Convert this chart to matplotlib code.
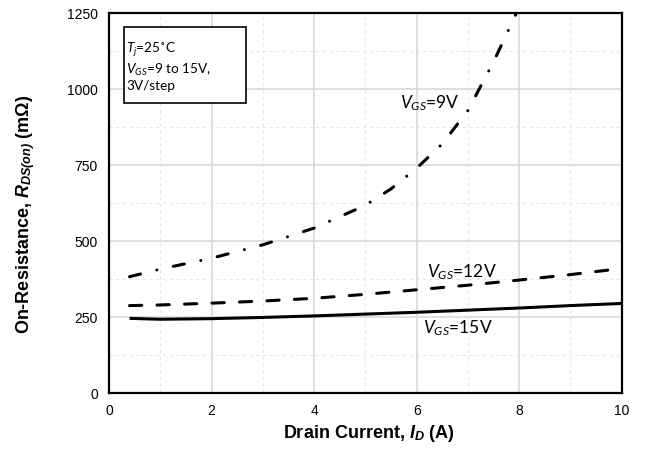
import numpy as np
import matplotlib.pyplot as plt
from matplotlib.patches import Rectangle

plt.rcParams['mathtext.fontset'] = 'custom'
plt.rcParams['mathtext.rm'] = 'Lato'
plt.rcParams['mathtext.it'] = 'Lato:italic'
plt.rcParams['mathtext.bfit'] = 'Liberation Sans:bold:italic'

id_9v = [0.4, 1, 2, 3, 4, 5, 5.5, 6, 6.5, 7, 7.5, 8]
r_9v = [383, 408, 444, 488, 543, 618, 672, 740, 820, 930, 1090, 1270]

id_12v = [0.4, 1, 2, 3, 4, 5, 6, 7, 8, 9, 10]
r_12v = [288, 290, 296, 303, 312, 325, 340, 355, 372, 390, 410]

id_15v = [0.4, 1, 2, 3, 4, 5, 6, 7, 8, 9, 10]
r_15v = [246, 243, 245, 249, 254, 260, 266, 273, 280, 288, 295]

xticks = [0, 2, 4, 6, 8, 10]
yticks = [0, 250, 500, 750, 1000, 1250]

fig = plt.figure(figsize=(6.49, 4.55), dpi=100)
ax = fig.add_axes([0.168, 0.136, 0.79, 0.835])

lw = 2.2
ax.plot(id_15v, r_15v, color='black', lw=lw, solid_capstyle='butt')
ax.plot(id_12v, r_12v, color='black', lw=lw, linestyle=(0, (4, 5)),
        dash_capstyle='round')
ax.plot(id_9v, r_9v, color='black', lw=lw, linestyle=(0, (3.7, 5.5, 0.01, 5.5)),
        dash_capstyle='round')

ax.set_xlim(0, 10)
ax.set_ylim(0, 1250)
ax.set_xticks(xticks)
ax.set_yticks(yticks)
ax.set_xticks(np.arange(1, 10, 2), minor=True)
ax.set_yticks(np.arange(125, 1250, 250), minor=True)
ax.grid(which='major', color='#d9d9d9', lw=1.2)
ax.grid(which='minor', color='#e6e6e6', lw=0.8, linestyle=(0, (3, 3)))
ax.set_axisbelow(True)
ax.tick_params(which='both', length=0, pad=8, labelsize=10)
for lab in ax.get_xticklabels() + ax.get_yticklabels():
    lab.set_family('Liberation Sans')
for s in ax.spines.values():
    s.set_linewidth(1.6)

ax.set_xlabel('Drain Current, $\\mathbfit{I}_\\mathbfit{D}$ (A)', fontsize=13,
              fontweight='bold', family='Liberation Sans')
ax.set_ylabel('On-Resistance, $\\mathbfit{R}_{\\mathbfit{DS(on)}}$ (m\u03a9)', fontsize=13,
              fontweight='bold', family='Liberation Sans')
ax.xaxis.set_label_coords(0.507, -0.079)
ax.yaxis.set_label_coords(-0.14, 0.471)

lbl = dict(fontsize=12.5, family='Lato', va='center', ha='left')
ax.text(5.67, 954, '$V_{GS}$=9V', **lbl)
ax.text(6.2, 398, '$V_{GS}$=12V', **lbl)
ax.text(6.13, 214, '$V_{GS}$=15V', **lbl)

ax.add_patch(Rectangle((0.029, 0.763), 0.238, 0.2, transform=ax.transAxes,
                       fc='white', ec='black', lw=1.2, zorder=3))
ax.text(0.033, 0.929, '$T_j$=25\u02daC\n$V_{GS}$=9 to 15V,\n3V/step', fontsize=9.8,
        family='Lato', va='top', ha='left', linespacing=1.22,
        transform=ax.transAxes, zorder=4)

fig.savefig('out.png', dpi=100)
